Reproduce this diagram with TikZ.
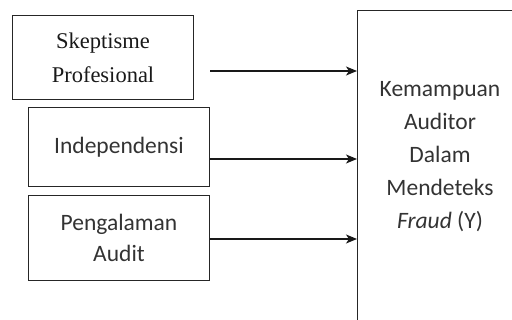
\documentclass[tikz,border=0pt]{standalone}
\usepackage{fontspec}
\setmainfont{Carlito}
\newfontfamily\serifbox{Liberation Serif}
\usetikzlibrary{
    arrows.meta,
    positioning,
}

\begin{document}
\begin{tikzpicture}[
        x=1pt, y=-1pt,
        >={Stealth[length=11pt, width=9pt, inset=3pt]},
        varbox/.style={
            rectangle, draw=black!85, line width=1pt, inner sep=0pt,
            minimum width=181pt, minimum height=#1, anchor=north west,
            align=center, text=black!80, font=\fontsize{23.5}{31}\selectfont
        },
        varbox/.default=80pt,
        arrow/.style={->, line width=1.3pt, black!90},
    ]

    \useasboundingbox (0,0) rectangle (512,320);
    \clip (0,0) rectangle (512,320);

    % ── Independent variables ──
    \node[varbox=84pt, text=black!90, font=\serifbox\fontsize{22.5}{34}\selectfont]
        (skeptisme) at (12,15) {Skeptisme\\Profesional};
    \node[varbox=79pt] (independensi) at (28,107) {Independensi};
    \node[varbox=85pt] (pengalaman) at (28,195) {Pengalaman\\Audit};

    % ── Dependent variable (runs off the page) ──
    \node[draw=black!85, line width=1pt, minimum width=200pt, minimum height=360pt,
        anchor=north west] (kemampuan) at (357,10) {};
    \node[align=center, text=black!80, font=\fontsize{23.5}{33}\selectfont] (ytext)
        at (440,157) {Kemampuan\\Auditor\\Dalam\\Mendeteks\\\textit{Fraud} (Y)};

    % ── Arrows ──
    \coordinate (start1) at (210,71);
    \draw[arrow] (start1) -- (kemampuan.west |- start1);
    \draw[arrow] (independensi.east |- 0,159) -- (kemampuan.west |- 0,159);
    \draw[arrow] (pengalaman.east |- 0,239) -- (kemampuan.west |- 0,239);

\end{tikzpicture}
\end{document}
